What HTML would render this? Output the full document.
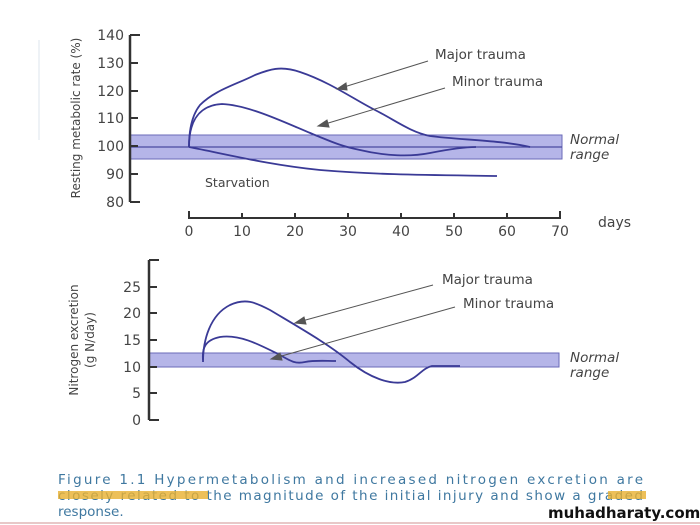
<!DOCTYPE html>
<html><head><meta charset="utf-8"><style>
html,body{margin:0;padding:0;background:#fff;}
svg{display:block;}
text{font-family:"DejaVu Sans","Liberation Sans",sans-serif;fill:#444;}
.cap{font-family:"DejaVu Sans","Liberation Sans",sans-serif;fill:#3f78a0;font-size:13.5px;}
</style></head><body>
<svg width="700" height="525" viewBox="0 0 700 525" xmlns="http://www.w3.org/2000/svg">
<rect width="700" height="525" fill="#fff"/>
<line x1="39" y1="40" x2="39" y2="140" stroke="#eef2f6" stroke-width="2"/>
<rect x="130" y="135" width="432" height="24" fill="#b5b5e8" stroke="#6a6ab8" stroke-width="1"/>
<line x1="130" y1="147" x2="562" y2="147" stroke="#4a4aa0" stroke-width="1.2"/>
<path d="M130 35 V202" stroke="#333" stroke-width="2.5" fill="none"/>
<g stroke="#333" stroke-width="2">
<line x1="130" y1="35" x2="140" y2="35"/><line x1="130" y1="63" x2="138" y2="63"/><line x1="130" y1="91" x2="138" y2="91"/><line x1="130" y1="118" x2="138" y2="118"/><line x1="130" y1="146" x2="138" y2="146"/><line x1="130" y1="174" x2="138" y2="174"/><line x1="130" y1="202" x2="140" y2="202"/>
</g>
<g font-size="14" text-anchor="end">
<text x="124" y="40">140</text><text x="124" y="68">130</text><text x="124" y="96">120</text><text x="124" y="123">110</text><text x="124" y="151">100</text><text x="124" y="179">90</text><text x="124" y="207">80</text>
</g>
<text transform="translate(80,118) rotate(-90)" font-size="12" text-anchor="middle">Resting metabolic rate (%)</text>
<path d="M189 211 V218 H560 V211" stroke="#333" stroke-width="2" fill="none"/>
<g stroke="#333" stroke-width="2">
<line x1="242" y1="213" x2="242" y2="218"/><line x1="295" y1="213" x2="295" y2="218"/><line x1="348" y1="213" x2="348" y2="218"/><line x1="401" y1="213" x2="401" y2="218"/><line x1="454" y1="213" x2="454" y2="218"/><line x1="507" y1="213" x2="507" y2="218"/>
</g>
<g font-size="14" text-anchor="middle">
<text x="189" y="236">0</text><text x="242" y="236">10</text><text x="295" y="236">20</text><text x="348" y="236">30</text><text x="401" y="236">40</text><text x="454" y="236">50</text><text x="507" y="236">60</text><text x="560" y="236">70</text>
</g>
<text x="598" y="227" font-size="14">days</text>
<g stroke="#3a3a96" stroke-width="1.8" fill="none">
<path d="M189 147 C189 130 192 115 200 105 C215 90 235 85 255 75 C268 70 280 65 300 72 C330 82 355 100 375 110 C395 120 410 132 430 136 C460 140 500 140 530 147"/>
<path d="M189 147 C189 120 200 105 222 104 C250 105 290 125 315 135 C330 141 340 146 360 150 C385 156 410 157 430 153 C450 149 465 147 476 147"/>
<path d="M189 147 C230 155 270 165 320 170 C380 175 430 175 497 176"/>
</g>
<text x="205" y="187" font-size="12.5">Starvation</text>
<text x="435" y="59" font-size="13.5">Major trauma</text>
<text x="452" y="86" font-size="13.5">Minor trauma</text>
<g stroke="#555" stroke-width="1" fill="#555">
<line x1="428" y1="61" x2="344" y2="87"/><polygon points="337,89 346,83 347,90"/>
<line x1="445" y1="88" x2="325" y2="124"/><polygon points="318,126 327,120 329,127"/>
</g>
<text x="570" y="144" font-size="13.5" font-style="italic">Normal</text>
<text x="570" y="159" font-size="13.5" font-style="italic">range</text>
<rect x="149" y="353" width="410" height="14" fill="#b5b5e8" stroke="#6a6ab8" stroke-width="1"/>
<path d="M149 260 V420" stroke="#333" stroke-width="2.5" fill="none"/>
<g stroke="#333" stroke-width="2">
<line x1="149" y1="260" x2="159" y2="260"/><line x1="149" y1="287" x2="157" y2="287"/><line x1="149" y1="313" x2="157" y2="313"/><line x1="149" y1="340" x2="157" y2="340"/><line x1="149" y1="367" x2="157" y2="367"/><line x1="149" y1="393" x2="157" y2="393"/><line x1="149" y1="420" x2="159" y2="420"/>
</g>
<g font-size="14" text-anchor="end">
<text x="141" y="292">25</text><text x="141" y="318">20</text><text x="141" y="345">15</text><text x="141" y="372">10</text><text x="141" y="398">5</text><text x="141" y="425">0</text>
</g>
<text transform="translate(78,340) rotate(-90)" font-size="12" text-anchor="middle">Nitrogen excretion</text>
<text transform="translate(94,340) rotate(-90)" font-size="12" text-anchor="middle">(g N/day)</text>
<g stroke="#3a3a96" stroke-width="1.8" fill="none">
<path d="M203 362 C203 340 210 315 230 305 C245 298 255 302 270 310 C300 328 330 345 350 362 C370 378 390 385 405 382 C418 378 422 368 432 366 L460 366"/>
<path d="M203 360 C202 348 205 340 220 337 C240 334 260 345 280 355 C292 362 296 364 305 362 C315 360 325 361 336 361"/>
</g>
<text x="442" y="284" font-size="13.5">Major trauma</text>
<text x="463" y="308" font-size="13.5">Minor trauma</text>
<g stroke="#555" stroke-width="1" fill="#555">
<line x1="433" y1="285" x2="302" y2="321"/><polygon points="295,323 304,317 306,324"/>
<line x1="455" y1="307" x2="278" y2="357"/><polygon points="271,359 280,353 282,360"/>
</g>
<text x="570" y="362" font-size="13.5" font-style="italic">Normal</text>
<text x="570" y="377" font-size="13.5" font-style="italic">range</text>
<text class="cap" x="58" y="484" textLength="585" lengthAdjust="spacing">Figure 1.1 Hypermetabolism and increased nitrogen excretion are</text>
<text class="cap" x="58" y="500" textLength="585" lengthAdjust="spacing">closely related to the magnitude of the initial injury and show a graded</text>
<rect x="58" y="491" width="150" height="8" fill="#e8b030" opacity="0.8"/>
<rect x="608" y="491" width="38" height="8" fill="#e8b030" opacity="0.8"/>
<text class="cap" x="58" y="516">response.</text>
<text x="548" y="518" font-size="15" font-weight="bold" style="fill:#111" font-family="Liberation Sans,sans-serif">muhadharaty.com</text>
<line x1="0" y1="523" x2="700" y2="523" stroke="#e8c8c8" stroke-width="2"/>
</svg>
</body></html>
